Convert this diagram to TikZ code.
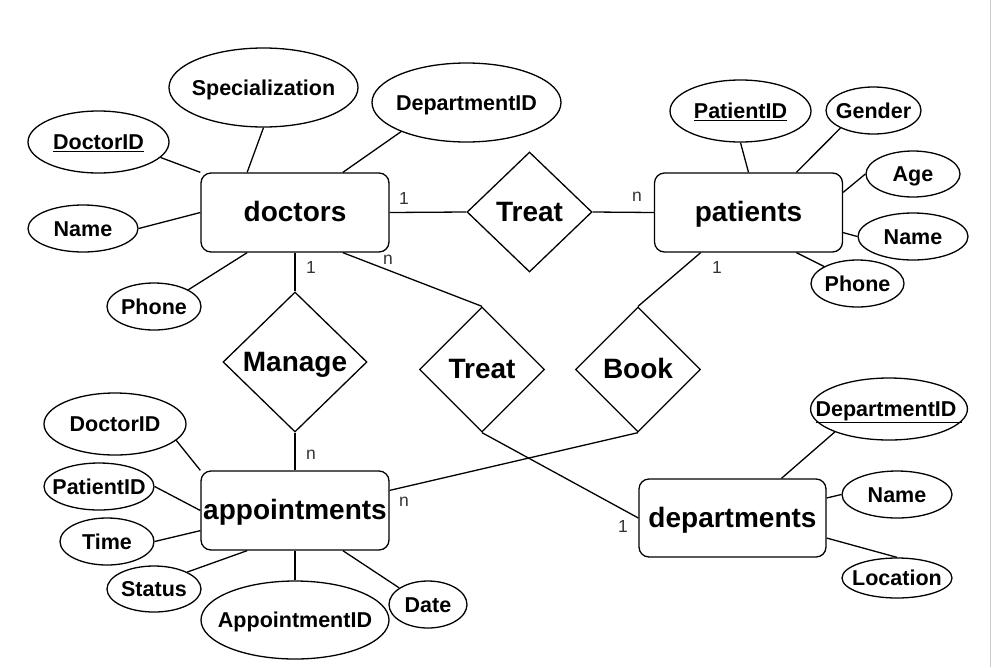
\documentclass[tikz,border=0pt]{standalone}
\usepackage{fontspec}
\setmainfont{Liberation Sans}
\usetikzlibrary{shapes.geometric}

\begin{document}
\begin{tikzpicture}[
                x=1pt, y=-1pt,
                line width=1.3pt,
                entity/.style={draw, rectangle, rounded corners=10pt, inner sep=0pt, text height=18.5pt, text depth=0pt, minimum width=188pt, minimum height=79pt, font=\fontsize{28}{32}\selectfont\bfseries},
                relation/.style={draw, diamond, inner sep=0pt, text height=18.5pt, text depth=0pt, minimum width=125pt, minimum height=125pt, font=\fontsize{28}{32}\selectfont\bfseries},
                attribute/.style={draw, ellipse, inner xsep=-18pt, inner ysep=0pt, text height=15pt, text depth=0pt, minimum width=110pt, minimum height=47pt, font=\fontsize{21.5}{24}\selectfont\bfseries},
                card/.style={text=black!80, inner sep=0pt, font=\fontsize{17.5}{20}\selectfont}
                ]
                \useasboundingbox (0,0) rectangle (992,667);
                \draw[black!20] (990.5,0) -- (990.5,667);

                \node[entity] (doctors) at (295,212.5) {doctors};
                \node[entity] (patients) at (748.5,212.5) {patients};
                \node[entity] (appointments) at (295,510.5) {appointments};
                \node[entity, minimum width=187pt, minimum height=78pt] (departments) at (732.5,518) {departments};

                \node[relation, minimum height=120pt] (treatDP) at (529.5,212) {Treat};
                \node[relation, minimum width=144pt, minimum height=140pt] (manage) at (295,362) {Manage};
                \node[relation] (treatDD) at (482,369.5) {Treat};
                \node[relation] (book) at (638,369.5) {Book};

                \node[attribute, minimum width=141pt, minimum height=62pt] (docID) at (98.5,142) {\underline{DoctorID}};
                \node[attribute, minimum width=189pt, minimum height=79pt] (docSpec) at (263.5,87.5) {Specialization};
                \node[attribute, minimum width=189pt, minimum height=79pt] (docDept) at (466.5,102.5) {DepartmentID};
                \node[attribute] (docName) at (83,228.5) {Name};
                \node[attribute, minimum width=94pt] (docPhone) at (154,306.5) {Phone};

                \node[attribute, minimum width=141pt, minimum height=62pt] (patID) at (740.5,111) {\underline{PatientID}};
                \node[attribute, minimum width=95pt] (patGender) at (873.5,110.5) {Gender};
                \node[attribute, minimum width=94pt, minimum height=46pt] (patAge) at (913,174) {Age};
                \node[attribute] (patName) at (913,236.5) {Name};
                \node[attribute, minimum width=93pt] (patPhone) at (857.5,283.5) {Phone};

                \node[attribute, minimum width=142pt, minimum height=62pt] (apDoc) at (115,424) {DoctorID};
                \node[attribute] (apPat) at (99,486.5) {PatientID};
                \node[attribute, minimum width=94pt] (apTime) at (107,541.5) {Time};
                \node[attribute, minimum width=94pt, minimum height=46pt] (apStatus) at (154,589) {Status};
                \node[attribute, minimum width=188pt, minimum height=78pt] (apID) at (295,620) {AppointmentID};
                \node[attribute, minimum width=78pt] (apDate) at (428,604.5) {Date};

                \node[attribute, minimum width=156pt, minimum height=62pt] (depID) at (889,409) {\underline{DepartmentID\ }};
                \node[attribute] (depName) at (897,494.5) {Name};
                \node[attribute, minimum height=40pt] (depLoc) at (897,578) {Location};

                \draw (docID.-14) -- (doctors.north west);
                \draw (docSpec.south) -- (doctors.140);
                \draw (docDept.204) -- (doctors.40);
                \draw (docName.east) -- (doctors.west);
                \draw (docPhone.26) -- (doctors.220);

                \draw (patID.south) -- (patients.north);
                \draw (patGender.208) -- (patients.40);
                \draw (patAge.west) -- (patients.12);
                \draw (patName.west) -- (patients.-12);
                \draw (patPhone.153) -- (patients.-40);

                \draw (apDoc.-15) -- (appointments.north west);
                \draw (apPat.east) -- (appointments.west);
                \draw (apTime.east) -- (appointments.192);
                \draw (apStatus.27) -- (appointments.220);
                \draw (apID.north) -- (appointments.south);
                \draw (apDate.150) -- (appointments.-40);

                \draw (depID.203) -- (departments.39);
                \draw (depName.west) -- (departments.12);
                \draw (depLoc.north) -- (departments.-12);

                \draw (doctors.east) -- (treatDP.west);
                \draw (treatDP.east) -- (patients.west);
                \draw (doctors.south) -- (manage.north);
                \draw (manage.south) -- (appointments.north);
                \draw (doctors.-40) -- (treatDD.north);
                \draw (treatDD.south) -- (departments.west);
                \draw (patients.220) -- (book.north);
                \draw (book.south) -- (appointments.12);

                \node[card] (cDocTreat) at (404,198) {1};
                \node[card] (cPatTreat) at (637,197) {n};
                \node[card] (cDocManage) at (311,267) {1};
                \node[card] (cAppManage) at (311,455) {n};
                \node[card] (cDocTreatDD) at (388,260) {n};
                \node[card] (cDepTreatDD) at (623,526) {1};
                \node[card] (cPatBook) at (717,267) {1};
                \node[card] (cAppBook) at (404,502) {n};
\end{tikzpicture}
\end{document}
